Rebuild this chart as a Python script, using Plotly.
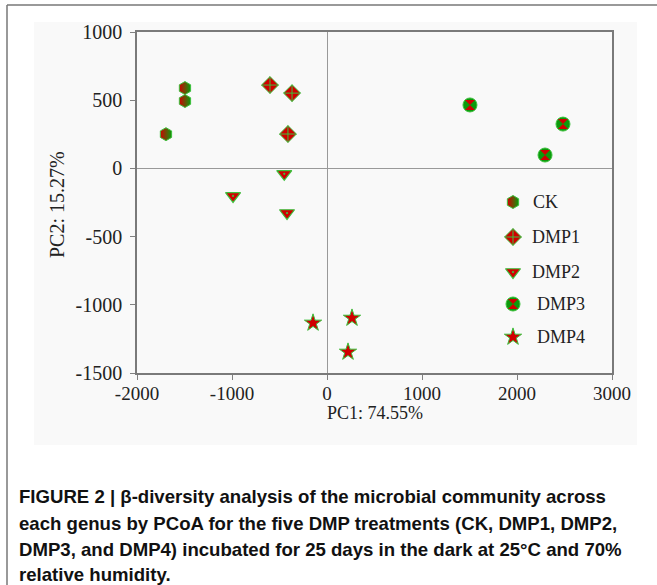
import plotly.graph_objects as go

# ---- data ----
ck_x = [-1495, -1495, -1695]
ck_y = [589, 494, 251]
dmp1_x = [-600, -368, -411]
dmp1_y = [611, 552, 252]
dmp2_x = [-989, -450, -421]
dmp2_y = [-202, -40, -327]
dmp3_x = [1505, 2484, 2295]
dmp3_y = [465, 325, 98]
dmp4_x = [-147, 263, 221]
dmp4_y = [-1133, -1097, -1346]

series_names = ["CK", "DMP1", "DMP2", "DMP3", "DMP4"]
x_ticks = [-2000, -1000, 0, 1000, 2000, 3000]
x_ticklabels = ["-2000", "-1000", "0", "1000", "2000", "3000"]
y_ticks = [-1500, -1000, -500, 0, 500, 1000]
y_ticklabels = ["-1500", "-1000", "-500", "0", "500", "1000"]
x_title = "PC1: 74.55%"
y_title = "PC2: 15.27%"
caption_lines = [
    "FIGURE 2 | β-diversity analysis of the microbial community across",
    "each genus by PCoA for the five DMP treatments (CK, DMP1, DMP2,",
    "DMP3, and DMP4) incubated for 25 days in the dark at 25°C and 70%",
    "relative humidity.",
]

# ---- layout geometry (pixels) ----
W, H = 657, 585
L, R, T, B = 137, 612, 32, 373


def px(xp):
    return (xp - L) / (R - L)


def py(yp):
    return (B - yp) / (B - T)


RED = "#d00000"
GREEN = "#0b9a0b"
LGREEN = "#3cc03c"
SERIF = "Liberation Serif, Times New Roman, serif"

fig = go.Figure()


def traces(data, xa="x", ya="y"):
    (cx, cy), (d1x, d1y), (d2x, d2y), (d3x, d3y), (d4x, d4y) = data
    out = []
    out.append(go.Scatter(x=cx, y=cy, mode="markers", xaxis=xa, yaxis=ya,
                          marker=dict(symbol="hexagon", size=13, color=RED,
                                      gradient=dict(type="horizontal", color=GREEN),
                                      line=dict(color=LGREEN, width=1))))
    out.append(go.Scatter(x=d1x, y=d1y, mode="markers", xaxis=xa, yaxis=ya,
                          marker=dict(symbol="diamond-cross", size=13, color=RED,
                                      line=dict(color=LGREEN, width=1))))
    out.append(go.Scatter(x=d2x, y=d2y, mode="markers", xaxis=xa, yaxis=ya,
                          marker=dict(symbol="triangle-down-dot", size=13, color=RED,
                                      line=dict(color=LGREEN, width=1.2))))
    out.append(go.Scatter(x=d3x, y=d3y, mode="markers", xaxis=xa, yaxis=ya,
                          marker=dict(symbol="circle", size=14, color=GREEN,
                                      line=dict(color=LGREEN, width=1))))
    out.append(go.Scatter(x=d3x, y=d3y, mode="markers", xaxis=xa, yaxis=ya,
                          marker=dict(symbol="hourglass", size=10, color=RED,
                                      line=dict(width=0))))
    out.append(go.Scatter(x=d4x, y=d4y, mode="markers", xaxis=xa, yaxis=ya,
                          marker=dict(symbol="star", size=13, color=RED,
                                      line=dict(color=LGREEN, width=1))))
    return out


for tr in traces([(ck_x, ck_y), (dmp1_x, dmp1_y), (dmp2_x, dmp2_y),
                  (dmp3_x, dmp3_y), (dmp4_x, dmp4_y)]):
    tr.showlegend = False
    fig.add_trace(tr)

# ---- custom legend on an overlay axis measured in pixels ----
leg_x = 513
leg_y = [202, 237, 272, 304, 337]
leg_data = [([leg_x], [leg_y[i]]) for i in range(5)]
for tr in traces(leg_data, xa="x2", ya="y2"):
    tr.showlegend = False
    fig.add_trace(tr)

text_x = [531, 530, 530, 535, 535]
annotations = []
for i, name in enumerate(series_names):
    annotations.append(dict(x=px(text_x[i]), y=py(leg_y[i]), xref="paper", yref="paper",
                            text=name, showarrow=False, xanchor="left", yanchor="middle",
                            font=dict(family=SERIF, size=18, color="#222")))

# axis titles
annotations.append(dict(x=0.5, y=py(413), xref="paper", yref="paper", text=x_title,
                        showarrow=False, xanchor="center", yanchor="middle",
                        font=dict(family=SERIF, size=18, color="#222")))
annotations.append(dict(x=px(57), y=py(205), xref="paper", yref="paper", text=y_title,
                        showarrow=False, xanchor="center", yanchor="middle", textangle=-90,
                        font=dict(family=SERIF, size=20, color="#222")))

# caption
cap_y = [496, 523, 549, 574]
for i, line in enumerate(caption_lines):
    annotations.append(dict(x=px(17), y=py(cap_y[i]), xref="paper", yref="paper",
                            text="<b>" + line + "</b>", showarrow=False,
                            xanchor="left", yanchor="middle",
                            font=dict(family="Liberation Sans, Arial, sans-serif",
                                      size=18.6, color="#111")))

shapes = [
    dict(type="rect", xref="paper", yref="paper", x0=px(34), x1=px(637),
         y0=py(445), y1=py(22), fillcolor="#f9f9f9", line=dict(width=0), layer="below"),
    dict(type="line", xref="paper", yref="paper", x0=px(7), x1=px(660),
         y0=py(5), y1=py(5), line=dict(color="#777", width=1.5)),
    dict(type="line", xref="paper", yref="paper", x0=px(7), x1=px(7),
         y0=py(5), y1=py(590), line=dict(color="#777", width=1.5)),
]

axis_common = dict(showgrid=False, ticks="outside", ticklen=5, tickwidth=1.2,
                   tickcolor="#808080", showline=True, linecolor="#7a7a7a",
                   linewidth=1.5, mirror=True, zeroline=True, zerolinecolor="#999",
                   zerolinewidth=1.2)

fig.update_layout(
    width=W, height=H,
    margin=dict(l=L, r=W - R, t=T, b=H - B, pad=0),
    paper_bgcolor="white",
    plot_bgcolor="#f9f9f9",
    showlegend=False,
    xaxis=dict(range=[-2000, 3000], tickvals=x_ticks, ticktext=x_ticklabels,
               ticklabelstandoff=-3, tickfont=dict(family=SERIF, size=19, color="#222"),
               **axis_common),
    yaxis=dict(range=[-1500, 1000], tickvals=y_ticks, ticktext=y_ticklabels,
               ticklabelstandoff=4, tickfont=dict(family=SERIF, size=20, color="#222"),
               **axis_common),
    xaxis2=dict(range=[L, R], overlaying="x", visible=False, fixedrange=True),
    yaxis2=dict(range=[B, T], overlaying="y", visible=False, fixedrange=True),
    annotations=annotations,
    shapes=shapes,
)

fig.write_html("out.html")
